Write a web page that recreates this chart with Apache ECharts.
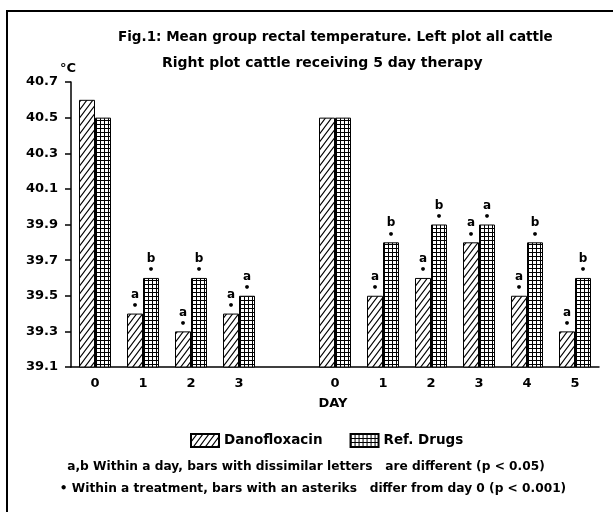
<!DOCTYPE html>
<html>
<head>
<meta charset="utf-8">
<script src="https://cdn.jsdelivr.net/npm/echarts@6/dist/echarts.min.js"></script>
<style>
  html, body { margin: 0; padding: 0; background: #fff; }
  #chart { width: 613px; height: 512px; }
</style>
</head>
<body>
<div id="chart"></div>
<script>
// categories: left plot days 0-3, a blank gap, right plot days 0-5
const days = ['0', '1', '2', '3', '', '0', '1', '2', '3', '4', '5'];
const danoTemp = [40.6, 39.4, 39.3, 39.4, null, 40.5, 39.5, 39.6, 39.8, 39.5, 39.3];
const refTemp  = [40.5, 39.6, 39.6, 39.5, null, 40.5, 39.8, 39.9, 39.9, 39.8, 39.6];
const danoLetter = ['', 'a', 'a', 'a', '', '', 'a', 'a', 'a', 'a', 'a'];
const refLetter  = ['', 'b', 'b', 'a', '', '', 'b', 'b', 'a', 'b', 'b'];
const danoStar = [0, 1, 1, 1, 0, 0, 1, 1, 1, 1, 1];
const refStar  = [0, 1, 1, 1, 0, 0, 1, 1, 1, 1, 1];
const yTicks = [39.1, 39.3, 39.5, 39.7, 39.9, 40.1, 40.3, 40.5, 40.7];

const FONT = 'DejaVu Sans';

// diagonal hatch pattern
function makeHatch() {
    const c = document.createElement('canvas');
    const w = 6, h = 8;
    c.width = w; c.height = h;
    const g = c.getContext('2d');
    g.fillStyle = '#fff';
    g.fillRect(0, 0, w, h);
    g.strokeStyle = '#000';
    g.lineWidth = 1.1;
    g.beginPath();
    g.moveTo(-w, 2 * h); g.lineTo(2 * w, -h);
    g.moveTo(-2 * w, 2 * h); g.lineTo(w, -h);
    g.moveTo(0, 2 * h); g.lineTo(3 * w, -h);
    g.stroke();
    return c;
}
// square grid pattern
function makeGrid() {
    const c = document.createElement('canvas');
    c.width = 4; c.height = 4;
    const g = c.getContext('2d');
    g.fillStyle = '#fff';
    g.fillRect(0, 0, 4, 4);
    g.fillStyle = '#000';
    g.fillRect(0, 0, 4, 1);
    g.fillRect(0, 0, 1, 4);
    return c;
}

function buildData(vals, letters, stars) {
    return vals.map((v, i) => ({
        value: v,
        label: {
            show: v != null && (letters[i] !== '' || stars[i]),
            formatter: (letters[i] ? '{l|' + letters[i] + '}' : '') + '\n' + (stars[i] ? '{d|•}' : '')
        }
    }));
}

const labelRich = {
    l: { fontFamily: FONT, fontWeight: 'bold', fontSize: 12, color: '#000', lineHeight: 12 },
    d: { fontFamily: FONT, fontWeight: 'bold', fontSize: 11, color: '#000', lineHeight: 11 }
};

const chart = echarts.init(document.getElementById('chart'));
const option = {
    backgroundColor: '#fff',
    animation: false,
    textStyle: { fontFamily: FONT, color: '#000' },
    title: [{
        text: 'Fig.1: Mean group rectal temperature. Left plot all cattle',
        left: 113, top: 25,
        textStyle: { fontFamily: FONT, fontWeight: 'bold', fontSize: 13.5, color: '#000' }
    }, {
        text: 'Right plot cattle receiving 5 day therapy',
        left: 157, top: 51,
        textStyle: { fontFamily: FONT, fontWeight: 'bold', fontSize: 14, color: '#000' }
    }],
    graphic: [{
        type: 'rect',
        shape: { x: 7, y: 11, width: 700, height: 700 },
        style: { fill: null, stroke: '#000', lineWidth: 2 },
        silent: true
    }, {
        type: 'text',
        x: 60, y: 62,
        style: { text: '°C', font: 'bold 13px "DejaVu Sans"', fill: '#000' }
    }, {
        type: 'text',
        x: 333, y: 404,
        style: { text: 'DAY', font: 'bold 13px "DejaVu Sans"', fill: '#000', textAlign: 'center', textVerticalAlign: 'middle' }
    }, {
        type: 'text',
        x: 306, y: 467,
        style: { text: 'a,b Within a day, bars with dissimilar letters   are different (p < 0.05)', font: 'bold 12.2px "DejaVu Sans"', fill: '#000', textAlign: 'center', textVerticalAlign: 'middle' }
    }, {
        type: 'text',
        x: 313, y: 489,
        style: { text: '• Within a treatment, bars with an asteriks   differ from day 0 (p < 0.001)', font: 'bold 12.2px "DejaVu Sans"', fill: '#000', textAlign: 'center', textVerticalAlign: 'middle' }
    }],
    legend: {
        left: 185, top: 428,
        itemWidth: 28, itemHeight: 13, itemGap: 27,
        icon: 'rect',
        selectedMode: false,
        textStyle: { fontFamily: FONT, fontWeight: 'bold', fontSize: 13.5, color: '#000' },
        data: ['Danofloxacin', 'Ref. Drugs']
    },
    grid: { left: 71, right: 14, top: 82, bottom: 145 },
    xAxis: {
        type: 'category',
        data: days,
        axisLine: { lineStyle: { color: '#000', width: 1.5 } },
        axisTick: { show: false },
        axisLabel: { fontFamily: FONT, fontWeight: 'bold', fontSize: 13, color: '#000', margin: 10 }
    },
    yAxis: {
        type: 'value',
        min: 39.1, max: 40.7, interval: 0.2,
        splitLine: { show: false },
        axisLine: { show: true, lineStyle: { color: '#000', width: 1.5 } },
        axisTick: { show: true, length: 6, lineStyle: { color: '#000', width: 1.5 }, customValues: yTicks },
        axisLabel: {
            fontFamily: FONT, fontWeight: 'bold', fontSize: 13, color: '#000', margin: 13,
            customValues: yTicks,
            formatter: v => v.toFixed(1)
        }
    },
    series: [{
        name: 'Danofloxacin',
        type: 'bar',
        barWidth: 16,
        barGap: '0%',
        itemStyle: { color: { image: makeHatch(), repeat: 'repeat' }, borderColor: '#000', borderWidth: 1 },
        label: { position: 'top', distance: 2, rich: labelRich },
        emphasis: { disabled: true },
        data: buildData(danoTemp, danoLetter, danoStar)
    }, {
        name: 'Ref. Drugs',
        type: 'bar',
        barWidth: 16,
        barGap: '0%',
        itemStyle: { color: { image: makeGrid(), repeat: 'repeat' }, borderColor: '#000', borderWidth: 1 },
        label: { position: 'top', distance: 2, rich: labelRich },
        emphasis: { disabled: true },
        data: buildData(refTemp, refLetter, refStar)
    }]
};
chart.setOption(option);
</script>
</body>
</html>
